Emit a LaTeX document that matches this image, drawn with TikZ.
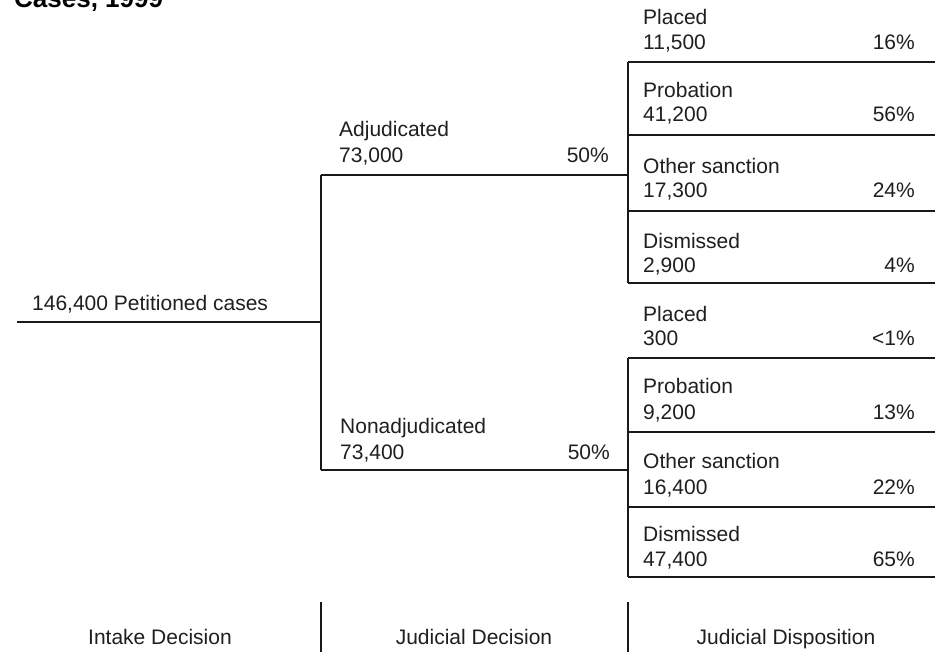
\documentclass[tikz,border=0pt]{standalone}
\usepackage{fontspec}
\setmainfont{Liberation Sans}
\begin{document}
\begin{tikzpicture}[x=1pt,y=-1pt,
  lbl/.style={anchor=base west,inner sep=0pt,font=\fontsize{21}{21}\selectfont,text=black!88},
  pct/.style={anchor=base east,inner sep=0pt,font=\fontsize{21}{21}\selectfont,text=black!88},
  stagecap/.style={anchor=base,inner sep=0pt,font=\fontsize{21}{21}\selectfont,text=black!88},
  ttl/.style={anchor=base west,inner sep=0pt,font=\fontsize{26}{26}\selectfont\bfseries},
  ln/.style={line width=1.2pt,black!90}]
\useasboundingbox (0,0) rectangle (944,652);
\fill[white] (0,0) rectangle (944,652);
% title (cut off at the top, as in the reference)
\node[ttl] (title) at (14,8) {Cases, 1999};
% coordinates
\coordinate (rs) at (17,322);
\coordinate (j1) at (321,322);
\coordinate (a1) at (321,175);
\coordinate (a2) at (628,175);
\coordinate (n1) at (321,470);
\coordinate (n2) at (628,470);
\coordinate (ta) at (628,62);
\coordinate (tb) at (628,135);
\coordinate (tc) at (628,211);
\coordinate (td) at (628,283);
\coordinate (tae) at (935,62);
\coordinate (tbe) at (935,135);
\coordinate (tce) at (935,211);
\coordinate (tde) at (935,283);
\coordinate (ba) at (628,358);
\coordinate (bb) at (628,432);
\coordinate (bc) at (628,507);
\coordinate (bd) at (628,577);
\coordinate (bae) at (935,358);
\coordinate (bbe) at (935,432);
\coordinate (bce) at (935,507);
\coordinate (bde) at (935,577);
\coordinate (d1t) at (321,602);
\coordinate (d1b) at (321,652);
\coordinate (d2t) at (628,602);
\coordinate (d2b) at (628,652);
% tree lines
\draw[ln] (rs) -- (j1);
\draw[ln] (a1) -- (n1);
\draw[ln] (a1) -- (a2);
\draw[ln] (n1) -- (n2);
\draw[ln] (ta) -- (td);
\draw[ln] (ta) -- (tae);
\draw[ln] (tb) -- (tbe);
\draw[ln] (tc) -- (tce);
\draw[ln] (td) -- (tde);
\draw[ln] (ba) -- (bd);
\draw[ln] (ba) -- (bae);
\draw[ln] (bb) -- (bbe);
\draw[ln] (bc) -- (bce);
\draw[ln] (bd) -- (bde);
\draw[ln] (d1t) -- (d1b);
\draw[ln] (d2t) -- (d2b);
% root
\node[lbl] (root) at (32,310) {146,400 Petitioned cases};
% judicial decision
\node[lbl] (adj) at (339,137) {Adjudicated};
\node[lbl] (adjn) at (339,163) {73,000};
\node[pct] (adjp) at (609,163) {50\%};
\node[lbl] (non) at (340,433) {Nonadjudicated};
\node[lbl] (nonn) at (340,459) {73,400};
\node[pct] (nonp) at (610,459) {50\%};
% adjudicated dispositions
\node[lbl] (tpl) at (643,25) {Placed};
\node[lbl] (tpln) at (643,50) {11,500};
\node[pct] (tplp) at (915,50) {16\%};
\node[lbl] (tpr) at (643,98) {Probation};
\node[lbl] (tprn) at (643,122) {41,200};
\node[pct] (tprp) at (915,122) {56\%};
\node[lbl] (tos) at (643,174) {Other sanction};
\node[lbl] (tosn) at (643,198) {17,300};
\node[pct] (tosp) at (915,198) {24\%};
\node[lbl] (tdi) at (643,248) {Dismissed};
\node[lbl] (tdin) at (643,272) {2,900};
\node[pct] (tdip) at (915,272) {4\%};
% nonadjudicated dispositions
\node[lbl] (bpl) at (643,321) {Placed};
\node[lbl] (bpln) at (643,345) {300};
\node[pct] (bplp) at (915,345) {<1\%};
\node[lbl] (bpr) at (643,393) {Probation};
\node[lbl] (bprn) at (643,419) {9,200};
\node[pct] (bprp) at (915,419) {13\%};
\node[lbl] (bos) at (643,468) {Other sanction};
\node[lbl] (bosn) at (643,494) {16,400};
\node[pct] (bosp) at (915,494) {22\%};
\node[lbl] (bdi) at (643,541) {Dismissed};
\node[lbl] (bdin) at (643,566) {47,400};
\node[pct] (bdip) at (915,566) {65\%};
% stage captions
\node[stagecap] (c1) at (160,644) {Intake Decision};
\node[stagecap] (c2) at (474,644) {Judicial Decision};
\node[stagecap] (c3) at (786,644) {Judicial Disposition};
\end{tikzpicture}
\end{document}
